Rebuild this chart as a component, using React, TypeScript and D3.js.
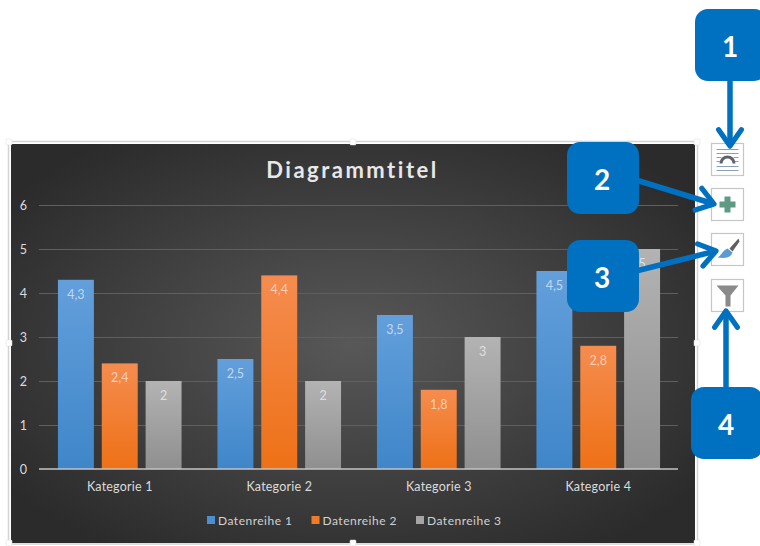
import React, { useEffect, useRef } from 'react';
import * as d3 from 'd3';

const categories = ['Kategorie 1', 'Kategorie 2', 'Kategorie 3', 'Kategorie 4'];
const seriesNames = ['Datenreihe 1', 'Datenreihe 2', 'Datenreihe 3'];
const series1 = [4.3, 2.5, 3.5, 4.5];
const series2 = [2.4, 4.4, 1.8, 2.8];
const series3 = [2, 2, 3, 5];
const yTicks = [0, 1, 2, 3, 4, 5, 6];
const callouts = ['1', '2', '3', '4'];

const seriesValues = [series1, series2, series3];
const gradients = ['barBlue', 'barOrange', 'barGray'];
const legendColors = ['#4a90d0', '#f07a25', '#a5a5a5'];
const font = 'Lato, "Open Sans", sans-serif';
const BLUE = '#0070c0';

const App: React.FC = () => {
  const chartRef = useRef<SVGSVGElement | null>(null);

  useEffect(() => {
    const svg = d3.select(chartRef.current);
    svg.selectAll('*').remove();

    const margin = { top: 205, right: 82, bottom: 77, left: 40 };
    const width = 760;
    const height = 546;

    const x0 = d3.scaleBand<string>()
      .domain(categories)
      .range([margin.left, width - margin.right])
      .paddingInner(0.225)
      .paddingOuter(0.1125);

    const x1 = d3.scaleBand<string>()
      .domain(seriesNames)
      .range([0, x0.bandwidth()])
      .paddingInner(0.18);

    const y = d3.scaleLinear()
      .domain([0, 6])
      .range([height - margin.bottom, margin.top]);

    const defs = svg.append('defs');

    const bg = defs.append('radialGradient').attr('id', 'chartBg').attr('r', '0.62');
    bg.append('stop').attr('offset', '0%').attr('stop-color', '#585858');
    bg.append('stop').attr('offset', '100%').attr('stop-color', '#2b2b2b');

    const addBarGradient = (id: string, top: string, bottom: string) => {
      const g = defs.append('linearGradient').attr('id', id).attr('x2', 0).attr('y2', 1);
      g.append('stop').attr('offset', '0%').attr('stop-color', top);
      g.append('stop').attr('offset', '100%').attr('stop-color', bottom);
    };
    addBarGradient('barBlue', '#639fdb', '#3f86c9');
    addBarGradient('barOrange', '#f58c4f', '#ee7116');
    addBarGradient('barGray', '#b3b3b3', '#8f8f8f');

    const marker = defs.append('marker')
      .attr('id', 'arrowHead')
      .attr('viewBox', '-2 -2 16 20')
      .attr('refX', 11)
      .attr('refY', 8)
      .attr('markerUnits', 'userSpaceOnUse')
      .attr('markerWidth', 26)
      .attr('markerHeight', 32.5)
      .attr('orient', 'auto');
    marker.append('path')
      .attr('d', 'M1,1 L11,8 L1,15')
      .attr('fill', 'none')
      .attr('stroke', BLUE)
      .attr('stroke-width', 3.2)
      .attr('stroke-linecap', 'round')
      .attr('stroke-linejoin', 'round');

    // Chart frame and background
    svg.append('rect')
      .attr('x', 8.5).attr('y', 141.5).attr('width', 689).attr('height', 402.5)
      .attr('fill', 'none').attr('stroke', '#d4d4d4').attr('stroke-width', 1.5);
    svg.append('rect')
      .attr('x', 11).attr('y', 144).attr('width', 684).attr('height', 399)
      .attr('fill', 'url(#chartBg)');

    svg.append('text')
      .attr('x', 352.5).attr('y', 178)
      .attr('text-anchor', 'middle')
      .attr('font-family', font)
      .attr('font-size', 22)
      .attr('font-weight', 700)
      .attr('letter-spacing', 2.5)
      .attr('fill', '#e8e8e8')
      .text('Diagrammtitel');

    // Gridlines
    svg.append('g')
      .selectAll('line')
      .data(yTicks.filter(d => d > 0))
      .join('line')
      .attr('x1', margin.left - 1)
      .attr('x2', width - margin.right)
      .attr('y1', d => y(d) + 0.5)
      .attr('y2', d => y(d) + 0.5)
      .attr('stroke', '#5f5f5f')
      .attr('stroke-width', 1);

    // Axes
    const yAxis = svg.append('g')
      .attr('transform', `translate(${margin.left},0)`)
      .call(d3.axisLeft(y).tickValues(yTicks).tickFormat(d3.format('d')).tickSize(0).tickPadding(13));
    yAxis.select('.domain').remove();
    yAxis.selectAll('text')
      .attr('font-family', font).attr('font-size', 12.5).attr('fill', '#dcdcdc');

    // Bars
    const groups = svg.append('g')
      .selectAll('g')
      .data(seriesNames)
      .join('g')
      .attr('data-series', d => d);

    groups.each(function (name, si) {
      const g = d3.select(this);
      const values = seriesValues[si];
      g.selectAll('rect')
        .data(values)
        .join('rect')
        .attr('x', (_, i) => (x0(categories[i]) as number) + (x1(name) as number))
        .attr('y', d => y(d))
        .attr('width', x1.bandwidth())
        .attr('height', d => y(0) - y(d))
        .attr('fill', `url(#${gradients[si]})`);
      g.selectAll('text')
        .data(values)
        .join('text')
        .attr('x', (_, i) => (x0(categories[i]) as number) + (x1(name) as number) + x1.bandwidth() / 2)
        .attr('y', d => y(d) + 19)
        .attr('text-anchor', 'middle')
        .attr('font-family', font)
        .attr('font-size', 12.5)
        .attr('fill', '#ffffff')
        .attr('fill-opacity', 0.62)
        .text(d => String(d).replace('.', ','));
    });

    const xAxis = svg.append('g')
      .attr('transform', `translate(0,${y(0)})`)
      .call(d3.axisBottom(x0).tickSize(0).tickPadding(13));
    xAxis.select('.domain').attr('stroke', '#c4c4c4').attr('stroke-width', 1.5).attr('d', `M${margin.left - 1},0H${width - margin.right}`);
    xAxis.selectAll('text')
      .attr('font-family', font).attr('font-size', 12.5).attr('letter-spacing', 0.2).attr('fill', '#dcdcdc');

    // Legend
    const legendX = d3.scalePoint<string>().domain(seriesNames).range([207, 416]);
    const legend = svg.append('g')
      .selectAll('g')
      .data(seriesNames)
      .join('g')
      .attr('transform', d => `translate(${legendX(d)},520)`);
    legend.append('rect')
      .attr('y', -4).attr('width', 8).attr('height', 8)
      .attr('fill', (_, i) => legendColors[i]);
    legend.append('text')
      .attr('x', 11).attr('y', 4.5)
      .attr('font-family', font).attr('font-size', 12)
      .attr('letter-spacing', 0.5)
      .attr('fill', '#d2d2d2')
      .text(d => d);

    // Resize handles
    const handles = [
      [9, 142], [353, 142], [697, 142],
      [9, 343], [697, 343],
      [9, 543], [353, 543], [697, 543],
    ];
    svg.append('g')
      .selectAll('rect')
      .data(handles)
      .join('rect')
      .attr('x', d => d[0] - 3)
      .attr('y', d => d[1] - 3)
      .attr('width', 6)
      .attr('height', 6)
      .attr('rx', 1)
      .attr('fill', '#ffffff')
      .attr('stroke', '#d8d8d8')
      .attr('stroke-width', 0.5);

    // Side buttons
    const buttons = svg.append('g')
      .selectAll('g')
      .data([143, 188, 233, 279])
      .join('g')
      .attr('transform', d => `translate(711.5,${d + 0.5})`);
    buttons.append('rect')
      .attr('width', 32).attr('height', 32)
      .attr('fill', '#ffffff').attr('stroke', '#c6c6c6').attr('stroke-width', 1.2);

    // Button 1: text wrap icon
    const icon1 = d3.select(buttons.nodes()[0]);
    icon1.append('g')
      .selectAll('line')
      .data([
        [5, 27, 6], [5, 27, 10], [5, 10, 14], [22, 27, 14],
        [5, 10, 18], [22, 27, 18], [5, 27, 23], [5, 27, 27],
      ])
      .join('line')
      .attr('x1', d => d[0]).attr('x2', d => d[1])
      .attr('y1', d => d[2]).attr('y2', d => d[2])
      .attr('stroke', '#8ba0b5').attr('stroke-width', 1);
    icon1.append('path')
      .attr('d', d3.arc()({ innerRadius: 5, outerRadius: 8, startAngle: -Math.PI / 2, endAngle: Math.PI / 2 }) as string)
      .attr('transform', 'translate(16,20)')
      .attr('fill', '#5f6368');

    // Button 2: plus icon
    d3.select(buttons.nodes()[1]).append('path')
      .attr('d', 'M13,8 h6 v5 h5 v6 h-5 v5 h-6 v-5 h-5 v-6 h5 z')
      .attr('fill', '#5f9a85');

    // Button 3: brush icon
    const icon3 = d3.select(buttons.nodes()[2]);
    icon3.append('path')
      .attr('d', 'M18,15 L27,5 L28,8 L21,18 z')
      .attr('fill', '#5e5e5e');
    icon3.append('path')
      .attr('d', 'M16,15 L21,19 C19,25 12,25 6,24 C10,22 11,17 16,15 z')
      .attr('fill', '#5b9bd5');

    // Button 4: funnel icon
    d3.select(buttons.nodes()[3]).append('path')
      .attr('d', 'M5,6 H27 L19,16 V27 H14 V16 z')
      .attr('fill', '#8a8a8a');

    // Callout arrows
    const arrows = [
      [730, 78, 730, 146],
      [636, 180, 714, 204],
      [636, 271, 716, 251],
      [726, 390, 726, 311],
    ];
    svg.append('g')
      .selectAll('line')
      .data(arrows)
      .join('line')
      .attr('x1', d => d[0]).attr('y1', d => d[1])
      .attr('x2', d => d[2]).attr('y2', d => d[3])
      .attr('stroke', BLUE)
      .attr('stroke-width', 5.5)
      .attr('marker-end', 'url(#arrowHead)');

    // Callout boxes
    const boxes = [
      [695, 9, 72],
      [567, 142, 72],
      [567, 240, 72],
      [691, 387, 72],
    ];
    const box = svg.append('g')
      .selectAll('g')
      .data(callouts)
      .join('g')
      .attr('transform', (_, i) => `translate(${boxes[i][0]},${boxes[i][1]})`);
    box.append('rect')
      .attr('width', (_, i) => boxes[i][2])
      .attr('height', (_, i) => boxes[i][2])
      .attr('rx', 13)
      .attr('fill', BLUE);
    box.append('text')
      .attr('x', 35)
      .attr('y', 48)
      .attr('text-anchor', 'middle')
      .attr('font-family', font)
      .attr('font-size', 28)
      .attr('font-weight', 700)
      .attr('fill', '#ffffff')
      .text(d => d);
  }, []);

  return (
    <svg
      ref={chartRef}
      width={760}
      height={546}
      style={{ position: 'absolute', left: 0, top: 0, background: '#ffffff' }}
    ></svg>
  );
};

export default App;
